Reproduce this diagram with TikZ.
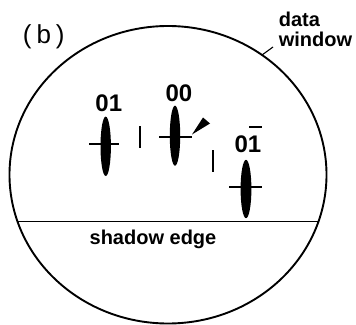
\documentclass[tikz,border=0pt]{standalone}
\usepackage{fontspec}
\setmainfont{Liberation Sans}
\begin{document}
\begin{tikzpicture}[x=1pt,y=-1pt, line width=1.7pt,
  lbl/.style={font=\bfseries\fontsize{24}{24}\selectfont, inner sep=0pt, anchor=base},
  txt/.style={font=\bfseries\fontsize{20}{20}\selectfont, inner sep=0pt},
  spot/.style={fill=black},
  crossbar/.style={line width=1.7pt},
  tick/.style={line width=2pt}]
\useasboundingbox (0,0) rectangle (356,324);
% data window
\draw[line width=1.9pt] (168,174.75) ellipse [x radius=158.5, y radius=148.75];
\begin{scope}
  \clip (168,174.75) ellipse [x radius=158.5, y radius=148.75];
  \draw (0,221.5) -- (356,221.5);
\end{scope}
% spots
\fill[spot] (105.7,146.3) ellipse [x radius=5.2, y radius=29.7];
\draw[crossbar] (89.3,144) -- (119.3,144);
\fill[spot] (175,135.7) ellipse [x radius=5.2, y radius=30];
\draw[crossbar] (159,137) -- (191.7,137);
\fill[spot] (246,189) ellipse [x radius=5.4, y radius=29.2];
\draw[crossbar] (229,187.3) -- (261.7,187.3);
% ticks
\draw[tick] (140.3,126) -- (140.3,148);
\draw[tick] (213.3,150) -- (213.3,171.7);
% wedge
\fill (192,134.5) -- (203,117.5) -- (210,123.5) -- cycle;
% labels
\node[lbl] (l01) at (108.8,111.7) {01};
\node[lbl] (l00) at (179,101.7) {00};
\node[lbl] (l01b) at (248,152.7) {01};
\draw[crossbar] (249,127.3) -- (261.5,127.3);
\node[txt, anchor=base] (se) at (153,244) {shadow edge};
\node[txt, anchor=base west] (dw1) at (278,26) {data};
\node[txt, anchor=base west] (dw2) at (278,46.5) {window};
\draw[line width=1.1pt] (262,55) -- (273,47);
\node[font=\fontsize{26}{26}\selectfont, anchor=base west, inner sep=0pt] (b) at (22,43.3) {(\hspace{5pt}b\hspace{5pt})};
\end{tikzpicture}
\end{document}
